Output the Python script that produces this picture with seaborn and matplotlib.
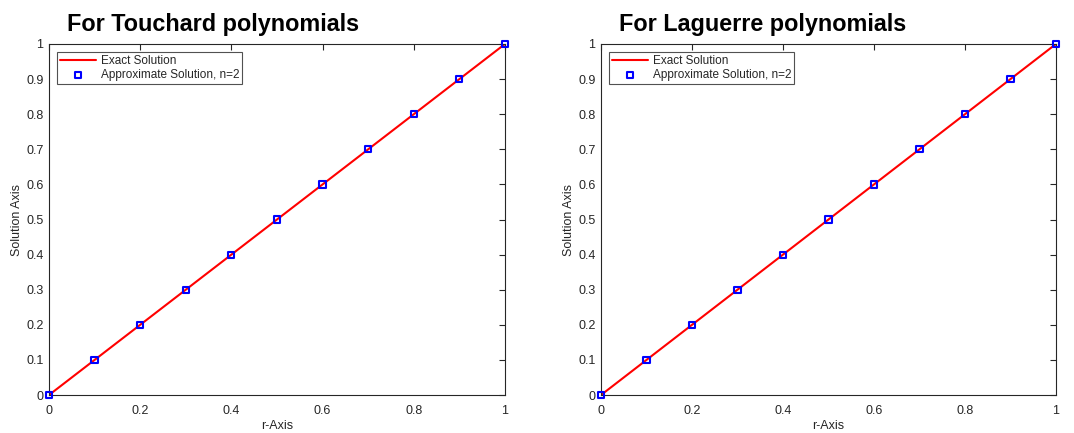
import matplotlib
matplotlib.use('Agg')
import matplotlib.pyplot as plt
import seaborn as sns
import pandas as pd

# data
r_vals = [0.0, 0.1, 0.2, 0.3, 0.4, 0.5, 0.6, 0.7, 0.8, 0.9, 1.0]
exact_touchard = [0.0, 0.1, 0.2, 0.3, 0.4, 0.5, 0.6, 0.7, 0.8, 0.9, 1.0]
approx_touchard = [0.0, 0.1, 0.2, 0.3, 0.4, 0.5, 0.6, 0.7, 0.8, 0.9, 1.0]
exact_laguerre = [0.0, 0.1, 0.2, 0.3, 0.4, 0.5, 0.6, 0.7, 0.8, 0.9, 1.0]
approx_laguerre = [0.0, 0.1, 0.2, 0.3, 0.4, 0.5, 0.6, 0.7, 0.8, 0.9, 1.0]

titles = ['For Touchard polynomials', 'For Laguerre polynomials']
xticks = [0, 0.2, 0.4, 0.6, 0.8, 1]
xtick_labels = ['0', '0.2', '0.4', '0.6', '0.8', '1']
yticks = [0, 0.1, 0.2, 0.3, 0.4, 0.5, 0.6, 0.7, 0.8, 0.9, 1]
ytick_labels = ['0', '0.1', '0.2', '0.3', '0.4', '0.5', '0.6', '0.7', '0.8', '0.9', '1']

sns.set_style('white')
plt.rcParams['font.family'] = ['Liberation Sans', 'DejaVu Sans']

fig = plt.figure(figsize=(10.74, 4.33), dpi=100)
ax1 = fig.add_axes([0.0456, 0.0877, 0.4246, 0.8107])
ax2 = fig.add_axes([0.5596, 0.0877, 0.4236, 0.8107])

panels = [
    (ax1, exact_touchard, approx_touchard, titles[0], 0.04),
    (ax2, exact_laguerre, approx_laguerre, titles[1], 0.04),
]

for ax, exact, approx, title, tx in panels:
    df = pd.DataFrame({'r': r_vals, 'exact': exact, 'approx': approx})
    sns.lineplot(data=df, x='r', y='exact', ax=ax, color='red', linewidth=1.5,
                 label='Exact Solution')
    sns.scatterplot(data=df, x='r', y='approx', ax=ax, marker='s', s=20,
                    facecolor='none', edgecolor='blue', linewidth=1.5,
                    label='Approximate Solution, n=2', zorder=3, clip_on=False)
    ax.set_xlim(0, 1)
    ax.set_ylim(0, 1)
    ax.set_xticks(xticks)
    ax.set_xticklabels(xtick_labels)
    ax.set_yticks(yticks)
    ax.set_yticklabels(ytick_labels)
    ax.tick_params(direction='in', length=4, width=0.8, labelsize=9,
                   colors='#262626', top=True, right=True)
    ax.tick_params(axis='x', pad=7)
    ax.tick_params(axis='y', pad=4)
    for s in ax.spines.values():
        s.set_color('#262626')
        s.set_linewidth(0.8)
    ax.set_xlabel('r-Axis', fontsize=9, color='#262626', labelpad=2)
    ax.set_ylabel('Solution Axis', fontsize=9, color='#262626', labelpad=2)
    ax.set_title(title, fontsize=16.8, fontweight='bold', color='black',
                 x=tx, ha='left', pad=9)
    leg = ax.legend(loc='upper left', fontsize=8.5, frameon=True, fancybox=False,
                    edgecolor='#262626', borderpad=0.25, labelspacing=0.15,
                    handlelength=3.0, handletextpad=0.45, borderaxespad=0.7)
    leg.get_frame().set_linewidth(0.8)

fig.savefig('out.png', dpi=100)
